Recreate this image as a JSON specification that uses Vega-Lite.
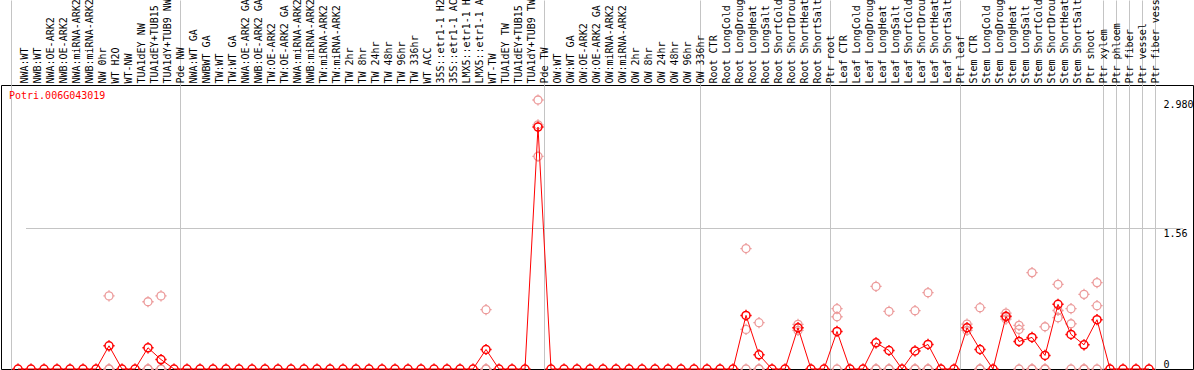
{
  "$schema": "https://vega.github.io/schema/vega-lite/v6.json",
  "width": 1192,
  "height": 284,
  "autosize": {"type": "none"},
  "padding": {"left": 1, "top": 85, "right": 1, "bottom": 1},
  "background": "white",
  "config": {"view": {"stroke": "black", "strokeWidth": 1}},
  "datasets": {
    "means": [
      {"tissue": "NWA:WT", "value": 0},
      {"tissue": "NWB:WT", "value": 0},
      {"tissue": "NWA:OE-ARK2", "value": 0},
      {"tissue": "NWB:OE-ARK2", "value": 0},
      {"tissue": "NWA:miRNA-ARK2", "value": 0},
      {"tissue": "NWB:miRNA-ARK2", "value": 0},
      {"tissue": "NW 0hr", "value": 0},
      {"tissue": "WT H2O", "value": 0.257},
      {"tissue": "WT-NW", "value": 0},
      {"tissue": "TUA1dEY NW", "value": 0},
      {"tissue": "TUA1dEY+TUB15 NW", "value": 0.235},
      {"tissue": "TUA1dY+TUB9 NW", "value": 0.105},
      {"tissue": "Pde NW", "value": 0},
      {"tissue": "NWA:WT GA", "value": 0},
      {"tissue": "NWBWT GA", "value": 0},
      {"tissue": "TW:WT", "value": 0},
      {"tissue": "TW:WT GA", "value": 0},
      {"tissue": "NWA:OE-ARK2 GA", "value": 0},
      {"tissue": "NWB:OE-ARK2 GA", "value": 0},
      {"tissue": "TW:OE-ARK2", "value": 0},
      {"tissue": "TW:OE-ARK2 GA", "value": 0},
      {"tissue": "NWA:miRNA-ARK2 GA", "value": 0},
      {"tissue": "NWB:miRNA-ARK2 GA", "value": 0},
      {"tissue": "TW:miRNA-ARK2", "value": 0},
      {"tissue": "TW:miRNA-ARK2 ", "value": 0},
      {"tissue": "TW 2hr", "value": 0},
      {"tissue": "TW 8hr", "value": 0},
      {"tissue": "TW 24hr", "value": 0},
      {"tissue": "TW 48hr", "value": 0},
      {"tissue": "TW 96hr", "value": 0},
      {"tissue": "TW 336hr", "value": 0},
      {"tissue": "WT ACC", "value": 0},
      {"tissue": "35S::etr1-1 H2O", "value": 0},
      {"tissue": "35S::etr1-1 ACC", "value": 0},
      {"tissue": "LMX5::etr1-1 H2O", "value": 0},
      {"tissue": "LMX5::etr1-1 ACC", "value": 0},
      {"tissue": "WT-TW", "value": 0.216},
      {"tissue": "TUA1dEY TW", "value": 0},
      {"tissue": "TUA1dEY+TUB15 TW", "value": 0},
      {"tissue": "TUA1dY+TUB9 TW", "value": 0},
      {"tissue": "Pde TW", "value": 2.68},
      {"tissue": "OW:WT", "value": 0},
      {"tissue": "OW:WT GA", "value": 0},
      {"tissue": "OW:OE-ARK2", "value": 0},
      {"tissue": "OW:OE-ARK2 GA", "value": 0},
      {"tissue": "OW:miRNA-ARK2", "value": 0},
      {"tissue": "OW:miRNA-ARK2 ", "value": 0},
      {"tissue": "OW 2hr", "value": 0},
      {"tissue": "OW 8hr", "value": 0},
      {"tissue": "OW 24hr", "value": 0},
      {"tissue": "OW 48hr", "value": 0},
      {"tissue": "OW 96hr", "value": 0},
      {"tissue": "OW 336hr", "value": 0},
      {"tissue": "Root CTR", "value": 0},
      {"tissue": "Root LongCold", "value": 0},
      {"tissue": "Root LongDrought", "value": 0},
      {"tissue": "Root LongHeat", "value": 0.594},
      {"tissue": "Root LongSalt", "value": 0.157},
      {"tissue": "Root ShortCold", "value": 0},
      {"tissue": "Root ShortDrought", "value": 0},
      {"tissue": "Root ShortHeat", "value": 0.457},
      {"tissue": "Root ShortSalt", "value": 0},
      {"tissue": "Ptr root", "value": 0},
      {"tissue": "Leaf CTR", "value": 0.416},
      {"tissue": "Leaf LongCold", "value": 0},
      {"tissue": "Leaf LongDrought", "value": 0},
      {"tissue": "Leaf LongHeat", "value": 0.29},
      {"tissue": "Leaf LongSalt", "value": 0.205},
      {"tissue": "Leaf ShortCold", "value": 0},
      {"tissue": "Leaf ShortDrought", "value": 0.2},
      {"tissue": "Leaf ShortHeat", "value": 0.272},
      {"tissue": "Leaf ShortSalt", "value": 0},
      {"tissue": "Ptr leaf", "value": 0},
      {"tissue": "Stem CTR", "value": 0.457},
      {"tissue": "Stem LongCold", "value": 0.216},
      {"tissue": "Stem LongDrought", "value": 0},
      {"tissue": "Stem LongHeat", "value": 0.583},
      {"tissue": "Stem LongSalt", "value": 0.305},
      {"tissue": "Stem ShortCold", "value": 0.35},
      {"tissue": "Stem ShortDrought", "value": 0.15},
      {"tissue": "Stem ShortHeat", "value": 0.716},
      {"tissue": "Stem ShortSalt", "value": 0.383},
      {"tissue": "Ptr shoot", "value": 0.268},
      {"tissue": "Ptr xylem", "value": 0.546},
      {"tissue": "Ptr phloem", "value": 0},
      {"tissue": "Ptr fiber", "value": 0},
      {"tissue": "Ptr vessel", "value": 0},
      {"tissue": "Ptr fiber vessel", "value": 0}
    ],
    "reps": [
      {"tissue": "WT H2O", "value": 0.81}, {"tissue": "WT H2O", "value": 0}, {"tissue": "WT H2O", "value": 0},
      {"tissue": "TUA1dEY+TUB15 NW", "value": 0.745}, {"tissue": "TUA1dEY+TUB15 NW", "value": 0}, {"tissue": "TUA1dEY+TUB15 NW", "value": 0},
      {"tissue": "TUA1dY+TUB9 NW", "value": 0.81}, {"tissue": "TUA1dY+TUB9 NW", "value": 0}, {"tissue": "TUA1dY+TUB9 NW", "value": 0},
      {"tissue": "WT-TW", "value": 0.657}, {"tissue": "WT-TW", "value": 0}, {"tissue": "WT-TW", "value": 0},
      {"tissue": "Pde TW", "value": 2.98}, {"tissue": "Pde TW", "value": 2.355}, {"tissue": "Pde TW", "value": 2.705},
      {"tissue": "Root LongHeat", "value": 1.334}, {"tissue": "Root LongHeat", "value": 0.438}, {"tissue": "Root LongHeat", "value": 0},
      {"tissue": "Root LongSalt", "value": 0.513}, {"tissue": "Root LongSalt", "value": 0}, {"tissue": "Root LongSalt", "value": 0},
      {"tissue": "Root ShortHeat", "value": 0.494}, {"tissue": "Root ShortHeat", "value": 0.427}, {"tissue": "Root ShortHeat", "value": 0.457},
      {"tissue": "Leaf CTR", "value": 0.668}, {"tissue": "Leaf CTR", "value": 0.579}, {"tissue": "Leaf CTR", "value": 0},
      {"tissue": "Leaf LongHeat", "value": 0.915}, {"tissue": "Leaf LongHeat", "value": 0}, {"tissue": "Leaf LongHeat", "value": 0},
      {"tissue": "Leaf LongSalt", "value": 0.638}, {"tissue": "Leaf LongSalt", "value": 0}, {"tissue": "Leaf LongSalt", "value": 0},
      {"tissue": "Leaf ShortDrought", "value": 0.646}, {"tissue": "Leaf ShortDrought", "value": 0}, {"tissue": "Leaf ShortDrought", "value": 0},
      {"tissue": "Leaf ShortHeat", "value": 0.846}, {"tissue": "Leaf ShortHeat", "value": 0}, {"tissue": "Leaf ShortHeat", "value": 0},
      {"tissue": "Stem CTR", "value": 0.497}, {"tissue": "Stem CTR", "value": 0.427}, {"tissue": "Stem CTR", "value": 0.457},
      {"tissue": "Stem LongCold", "value": 0.679}, {"tissue": "Stem LongCold", "value": 0}, {"tissue": "Stem LongCold", "value": 0},
      {"tissue": "Stem LongHeat", "value": 0.62}, {"tissue": "Stem LongHeat", "value": 0.553}, {"tissue": "Stem LongHeat", "value": 0.576},
      {"tissue": "Stem LongSalt", "value": 0.483}, {"tissue": "Stem LongSalt", "value": 0.438}, {"tissue": "Stem LongSalt", "value": 0},
      {"tissue": "Stem ShortCold", "value": 1.068}, {"tissue": "Stem ShortCold", "value": 0}, {"tissue": "Stem ShortCold", "value": 0},
      {"tissue": "Stem ShortDrought", "value": 0.468}, {"tissue": "Stem ShortDrought", "value": 0}, {"tissue": "Stem ShortDrought", "value": 0},
      {"tissue": "Stem ShortHeat", "value": 0.938}, {"tissue": "Stem ShortHeat", "value": 0.648}, {"tissue": "Stem ShortHeat", "value": 0.568},
      {"tissue": "Stem ShortSalt", "value": 0.668}, {"tissue": "Stem ShortSalt", "value": 0.501}, {"tissue": "Stem ShortSalt", "value": 0},
      {"tissue": "Ptr shoot", "value": 0.827}, {"tissue": "Ptr shoot", "value": 0}, {"tissue": "Ptr shoot", "value": 0},
      {"tissue": "Ptr xylem", "value": 0.957}, {"tissue": "Ptr xylem", "value": 0.701}, {"tissue": "Ptr xylem", "value": 0}
    ],
    "gene": [{"name": "Potri.006G043019", "tissue": "NWA:WT", "value": 3.02}]
  },
  "encoding": {
    "x": {
      "field": "tissue",
      "type": "nominal",
      "sort": null,
      "scale": {
        "type": "band",
        "paddingInner": 0,
        "paddingOuter": 0,
        "range": [10.5, 1167.5],
        "domain": ["NWA:WT","NWB:WT","NWA:OE-ARK2","NWB:OE-ARK2","NWA:miRNA-ARK2","NWB:miRNA-ARK2","NW 0hr","WT H2O","WT-NW","TUA1dEY NW","TUA1dEY+TUB15 NW","TUA1dY+TUB9 NW","Pde NW","NWA:WT GA","NWBWT GA","TW:WT","TW:WT GA","NWA:OE-ARK2 GA","NWB:OE-ARK2 GA","TW:OE-ARK2","TW:OE-ARK2 GA","NWA:miRNA-ARK2 GA","NWB:miRNA-ARK2 GA","TW:miRNA-ARK2","TW:miRNA-ARK2 ","TW 2hr","TW 8hr","TW 24hr","TW 48hr","TW 96hr","TW 336hr","WT ACC","35S::etr1-1 H2O","35S::etr1-1 ACC","LMX5::etr1-1 H2O","LMX5::etr1-1 ACC","WT-TW","TUA1dEY TW","TUA1dEY+TUB15 TW","TUA1dY+TUB9 TW","Pde TW","OW:WT","OW:WT GA","OW:OE-ARK2","OW:OE-ARK2 GA","OW:miRNA-ARK2","OW:miRNA-ARK2 ","OW 2hr","OW 8hr","OW 24hr","OW 48hr","OW 96hr","OW 336hr","Root CTR","Root LongCold","Root LongDrought","Root LongHeat","Root LongSalt","Root ShortCold","Root ShortDrought","Root ShortHeat","Root ShortSalt","Ptr root","Leaf CTR","Leaf LongCold","Leaf LongDrought","Leaf LongHeat","Leaf LongSalt","Leaf ShortCold","Leaf ShortDrought","Leaf ShortHeat","Leaf ShortSalt","Ptr leaf","Stem CTR","Stem LongCold","Stem LongDrought","Stem LongHeat","Stem LongSalt","Stem ShortCold","Stem ShortDrought","Stem ShortHeat","Stem ShortSalt","Ptr shoot","Ptr xylem","Ptr phloem","Ptr fiber","Ptr vessel","Ptr fiber vessel"," "]
      },
      "axis": {
        "orient": "top",
        "title": null,
        "bandPosition": 0,
        "labelOffset": 6.5,
        "labelAngle": -90,
        "labelAlign": "left",
        "labelBaseline": "middle",
        "labelPadding": -83,
        "labelFont": "DejaVu Sans Mono",
        "labelFontSize": 10,
        "labelColor": "black",
        "labelOverlap": false,
        "labelBound": false,
        "labelFlush": false,
        "labelLimit": 0,
        "domain": false,
        "ticks": true,
        "tickSize": 85,
        "tickWidth": 1,
        "tickColor": "#c4c4c4",
        "tickOpacity": {"condition": {"test": "indexof(['NWA:WT','NWA:WT GA','OW:WT','Root CTR','Leaf CTR','Stem CTR','Ptr phloem','Ptr fiber','Ptr vessel','Ptr fiber vessel',' '], datum.value) >= 0", "value": 1}, "value": 0},
        "grid": true,
        "gridWidth": 1,
        "gridColor": "#c4c4c4",
        "gridOpacity": {"condition": {"test": "indexof(['NWA:WT','NWA:WT GA','OW:WT','Root CTR','Leaf CTR','Stem CTR','Ptr phloem','Ptr fiber','Ptr vessel','Ptr fiber vessel',' '], datum.value) >= 0", "value": 1}, "value": 0}
      }
    },
    "y": {
      "field": "value",
      "type": "quantitative",
      "scale": {"domain": [0, 3.146], "nice": false, "zero": true},
      "axis": {
        "orient": "right",
        "title": null,
        "offset": -31,
        "values": [0, 1.56, 2.98],
        "labelExpr": "datum.value == 0 ? '0' : datum.value == 1.56 ? '1.56' : '2.980'",
        "domain": false,
        "ticks": false,
        "grid": true,
        "gridColor": "#c4c4c4",
        "gridOpacity": {"condition": {"test": "datum.value == 1.56", "value": 1}, "value": 0},
        "labelAlign": "left",
        "labelBaseline": {"condition": {"test": "datum.value == 0", "value": "bottom"}, "value": "top"},
        "labelPadding": 1,
        "labelFlush": false,
        "labelFont": "DejaVu Sans Mono",
        "labelFontSize": 10,
        "labelColor": "black"
      }
    }
  },
  "layer": [
    {
      "data": {"name": "reps"},
      "mark": {"type": "point", "shape": "M1,0C1,0.5523,0.5523,1,0,1C-0.5523,1,-1,0.5523,-1,0C-1,-0.5523,-0.5523,-1,0,-1C0.5523,-1,1,-0.5523,1,0ZM0,-1L0,-1.4M0,1L0,1.4M-1,0L-1.4,0M1,0L1.4,0", "size": 64, "filled": false, "color": "#ec9a9a", "strokeWidth": 1.3, "opacity": 1}
    },
    {
      "data": {"name": "means"},
      "mark": {"type": "line", "color": "#ff0000", "strokeWidth": 1},
      "encoding": {"order": {"value": null}}
    },
    {
      "data": {"name": "means"},
      "mark": {"type": "point", "shape": "M1,0C1,0.5523,0.5523,1,0,1C-0.5523,1,-1,0.5523,-1,0C-1,-0.5523,-0.5523,-1,0,-1C0.5523,-1,1,-0.5523,1,0ZM0,-1L0,-1.4M0,1L0,1.4M-1,0L-1.4,0M1,0L1.4,0", "size": 64, "filled": false, "color": "#ff0000", "strokeWidth": 1.5, "opacity": 1}
    },
    {
      "data": {"name": "gene"},
      "mark": {"type": "text", "align": "left", "baseline": "middle", "dx": -9, "color": "#ff0000", "font": "DejaVu Sans Mono", "fontSize": 10},
      "encoding": {
        "text": {"field": "name", "type": "nominal"}
      }
    }
  ]
}
